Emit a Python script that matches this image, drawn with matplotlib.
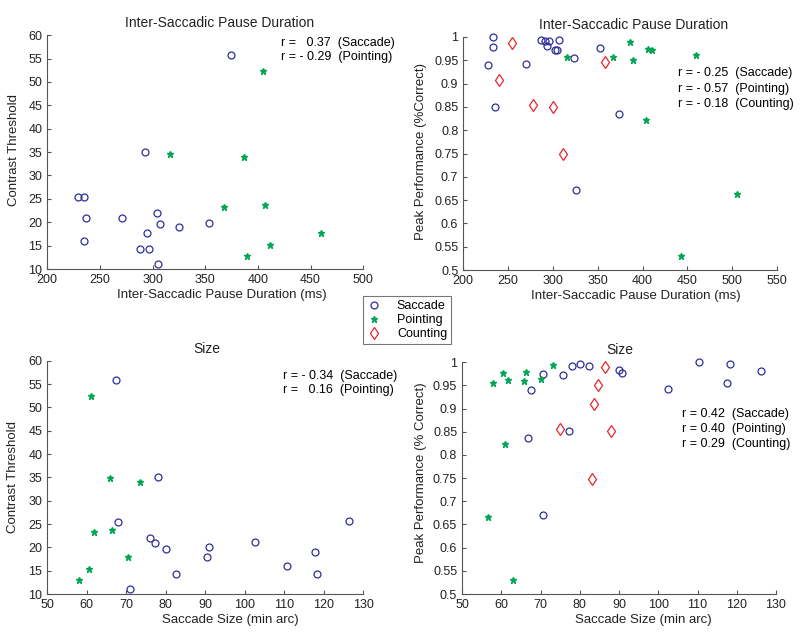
import numpy as np
import matplotlib.pyplot as plt
from matplotlib.ticker import FuncFormatter

plt.rcParams['font.family'] = ['Liberation Sans', 'DejaVu Sans']

# Contrast threshold vs pause duration
pause_sac = [374.9, 293.1, 229.1, 234.5, 236.4, 234.5, 271.0, 303.9, 307.1, 294.4, 288.1, 296.6, 305.2, 325.1, 353.6]
thr_sac = [55.7, 35.0, 25.3, 25.5, 20.9, 16.0, 21.0, 22.0, 19.6, 17.8, 14.2, 14.2, 11.1, 19.0, 19.9]
pause_pnt = [404.6, 316.6, 386.9, 367.6, 406.8, 460.1, 411.3, 390.1]
thr_pnt = [52.4, 34.7, 34.0, 23.2, 23.7, 17.8, 15.2, 12.8]

# Peak performance vs pause duration
pause_sac2 = [233.1, 233.1, 227.9, 234.9, 269.5, 286.6, 291.0, 295.5, 292.9, 306.3, 301.8, 304.4, 323.7, 352.4, 373.9, 326.0]
perf_sac = [1.0, 0.978, 0.939, 0.849, 0.941, 0.993, 0.991, 0.991, 0.980, 0.994, 0.972, 0.972, 0.954, 0.976, 0.834, 0.671]
pause_pnt2 = [315.2, 366.5, 385.8, 389.5, 406.2, 410.7, 459.4, 404.0, 504.7, 442.7]
perf_pnt = [0.956, 0.958, 0.989, 0.951, 0.975, 0.973, 0.961, 0.821, 0.664, 0.530]
pause_cnt = [254.3, 239.8, 277.7, 300.0, 310.7, 358.3]
perf_cnt = [0.986, 0.908, 0.853, 0.849, 0.748, 0.947]

# Contrast threshold vs saccade size
size_sac = [67.3, 78.0, 67.8, 76.0, 77.4, 80.2, 91.0, 90.5, 82.6, 70.9, 102.5, 110.6, 117.7, 118.4, 126.4]
thr_sac3 = [55.8, 35.0, 25.4, 22.1, 20.9, 19.7, 20.0, 17.9, 14.2, 11.1, 21.1, 16.0, 19.0, 14.3, 25.6]
size_pnt = [61.2, 66.0, 73.5, 61.9, 66.5, 70.4, 60.6, 58.0]
thr_pnt3 = [52.4, 34.8, 34.1, 23.2, 23.7, 17.9, 15.3, 12.9]

# Peak performance vs saccade size
size_sac4 = [67.6, 70.6, 75.7, 77.9, 80.1, 82.4, 90.1, 90.8, 110.5, 118.4, 126.2, 117.5, 102.4, 77.2, 66.9, 70.7]
perf_sac4 = [0.940, 0.974, 0.973, 0.992, 0.996, 0.992, 0.982, 0.977, 1.0, 0.995, 0.981, 0.956, 0.942, 0.851, 0.836, 0.671]
size_pnt4 = [57.8, 60.4, 61.6, 65.8, 66.3, 70.2, 73.2, 61.0, 56.7, 62.9]
perf_pnt4 = [0.956, 0.977, 0.961, 0.959, 0.979, 0.963, 0.993, 0.824, 0.666, 0.531]
size_cnt4 = [86.5, 84.7, 83.7, 75.0, 87.9, 83.0]
perf_cnt4 = [0.989, 0.951, 0.910, 0.855, 0.851, 0.749]

blue = '#2e2e9a'
green = '#00a651'
red = '#e8262d'

fig = plt.figure(figsize=(8, 6.37), dpi=100)


def sac(ax, x, y):
    return ax.plot(x, y, 'o', ls='none', mfc='none', mec=blue, ms=5, mew=0.9, clip_on=False)[0]


def pnt(ax, x, y):
    return ax.plot(x, y, '*', ls='none', color=green, ms=5, clip_on=False)[0]


def cnt(ax, x, y):
    return ax.plot(x, y, 'd', ls='none', mfc='none', mec=red, ms=6, mew=0.9, clip_on=False)[0]


def style(ax, title, tx, xlabel, xl, ylabel, yl):
    for s in ['top', 'right']:
        ax.spines[s].set_visible(False)
    for s in ['left', 'bottom']:
        ax.spines[s].set_color('#555555')
        ax.spines[s].set_linewidth(0.8)
    ax.tick_params(direction='in', length=3, width=0.8, color='#555555', labelsize=9, labelcolor='#222222')
    ax.set_title(title, fontsize=10, x=tx, pad=6, color='#222222')
    ax.set_xlabel(xlabel, fontsize=9.5, color='#222222')
    ax.xaxis.set_label_coords(xl, -0.085)
    ax.set_ylabel(ylabel, fontsize=9.5, color='#222222')
    ax.yaxis.set_label_coords(yl[0], yl[1])


g = FuncFormatter(lambda v, p: '%g' % round(v, 2))

ax1 = fig.add_axes([0.059, 0.5777, 0.395, 0.367])
sac(ax1, pause_sac, thr_sac)
pnt(ax1, pause_pnt, thr_pnt)
ax1.set_xlim(200, 500)
ax1.set_ylim(10, 60)
ax1.set_xticks(np.arange(200, 501, 50))
ax1.set_yticks(np.arange(10, 61, 5))
style(ax1, 'Inter-Saccadic Pause Duration', 0.546, 'Inter-Saccadic Pause Duration (ms)', 0.554,
      'Contrast Threshold', (-0.085, 0.51))
ax1.text(0.74, 0.966, 'r =   0.37  (Saccade)', transform=ax1.transAxes, fontsize=9, va='center')
ax1.text(0.74, 0.906, 'r = - 0.29  (Pointing)', transform=ax1.transAxes, fontsize=9, va='center')

ax2 = fig.add_axes([0.579, 0.576, 0.3925, 0.366])
h1 = sac(ax2, pause_sac2, perf_sac)
h2 = pnt(ax2, pause_pnt2, perf_pnt)
h3 = cnt(ax2, pause_cnt, perf_cnt)
ax2.set_xlim(200, 550)
ax2.set_ylim(0.5, 1)
ax2.set_xticks(np.arange(200, 551, 50))
ax2.set_yticks(np.arange(0.5, 1.001, 0.05))
ax2.yaxis.set_major_formatter(g)
style(ax2, 'Inter-Saccadic Pause Duration', 0.541, 'Inter-Saccadic Pause Duration (ms)', 0.551,
      'Peak Performance (%Correct)', (-0.116, 0.51))
for t, yy in zip(['r = - 0.25  (Saccade)', 'r = - 0.57  (Pointing)', 'r = - 0.18  (Counting)'],
                 [0.844, 0.776, 0.712]):
    ax2.text(0.684, yy, t, transform=ax2.transAxes, fontsize=9, va='center')

ax3 = fig.add_axes([0.059, 0.0675, 0.395, 0.366])
sac(ax3, size_sac, thr_sac3)
pnt(ax3, size_pnt, thr_pnt3)
ax3.set_xlim(50, 130)
ax3.set_ylim(10, 60)
ax3.set_xticks(np.arange(50, 131, 10))
ax3.set_yticks(np.arange(10, 61, 5))
style(ax3, 'Size', 0.506, 'Saccade Size (min arc)', 0.579, 'Contrast Threshold', (-0.089, 0.503))
ax3.text(0.747, 0.936, 'r = - 0.34  (Saccade)', transform=ax3.transAxes, fontsize=9, va='center')
ax3.text(0.747, 0.874, 'r =   0.16  (Pointing)', transform=ax3.transAxes, fontsize=9, va='center')

ax4 = fig.add_axes([0.5775, 0.0675, 0.3925, 0.364])
sac(ax4, size_sac4, perf_sac4)
pnt(ax4, size_pnt4, perf_pnt4)
cnt(ax4, size_cnt4, perf_cnt4)
ax4.set_xlim(50, 130)
ax4.set_ylim(0.5, 1)
ax4.set_xticks(np.arange(50, 131, 10))
ax4.set_yticks(np.arange(0.5, 1.001, 0.05))
ax4.yaxis.set_major_formatter(g)
style(ax4, 'Size', 0.503, 'Saccade Size (min arc)', 0.576, 'Peak Performance (% Correct)', (-0.112, 0.524))
for t, yy in zip(['r = 0.42  (Saccade)', 'r = 0.40  (Pointing)', 'r = 0.29  (Counting)'],
                 [0.776, 0.713, 0.647]):
    ax4.text(0.70, yy, t, transform=ax4.transAxes, fontsize=9, va='center')

leg = fig.legend([h1, h2, h3], ['Saccade', 'Pointing', 'Counting'], loc='center',
                 bbox_to_anchor=(407 / 800, 1 - 320 / 637), fontsize=9, frameon=True,
                 fancybox=False, edgecolor='#555555', handlelength=1.2, handletextpad=1.2,
                 borderpad=0.3, labelspacing=0.15, markerfirst=True)
leg.get_frame().set_linewidth(0.8)

fig.savefig('out.png', dpi=100)
